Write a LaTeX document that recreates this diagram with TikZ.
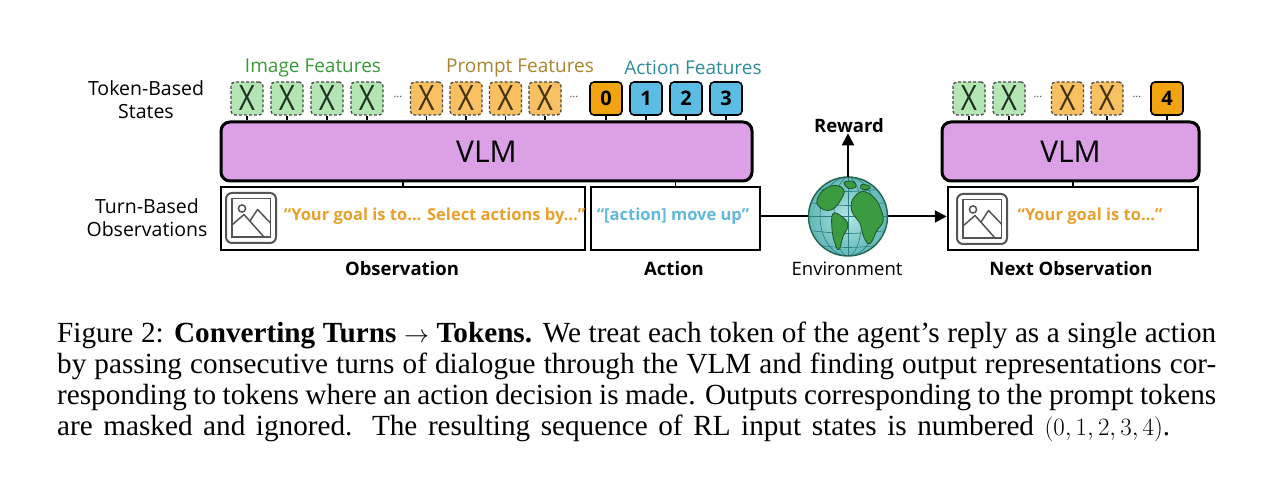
\documentclass[tikz,border=0pt]{standalone}
\usepackage[no-math]{fontspec}
\setmainfont{Liberation Serif}
\newfontfamily\dfont{Open Sans}
\usetikzlibrary{arrows.meta}
\definecolor{imgfill}{HTML}{B4E6B4}
\definecolor{prfill}{HTML}{F8C060}
\definecolor{numorange}{HTML}{F2A310}
\definecolor{numblue}{HTML}{5BBCE4}
\definecolor{vlmfill}{HTML}{DCA0E6}
\definecolor{dashgray}{HTML}{4A4A4A}
\definecolor{xgreen}{HTML}{223222}
\definecolor{xorange}{HTML}{42320C}
\definecolor{labgreen}{HTML}{3A9A3A}
\definecolor{labprompt}{HTML}{A8862E}
\definecolor{labaction}{HTML}{2E8C9C}
\definecolor{obsorange}{HTML}{E9A12B}
\definecolor{actblue}{HTML}{62B9DF}
\definecolor{icongray}{HTML}{555555}
\definecolor{ocean}{HTML}{78CFCF}
\definecolor{oceandark}{HTML}{2C7E82}
\definecolor{land}{HTML}{3C9A40}
\definecolor{landedge}{HTML}{1E5426}
\newcommand{\tokX}[1]{\textcolor{#1}{\fontsize{35}{35}\selectfont\scalebox{0.8}[1]{X}}}
\begin{document}
\begin{tikzpicture}[x=1pt,y=-1pt,
  every node/.style={font=\dfont},
  tok/.style={rectangle, rounded corners=4pt, minimum width=32pt, minimum height=33pt, inner sep=0pt},
  tokimg/.style={tok, fill=imgfill, draw=dashgray, dash pattern=on 3pt off 2pt, line width=1.3pt},
  tokpr/.style={tokimg, fill=prfill},
  toknum/.style={tok, draw=black, line width=1.6pt, font=\dfont\bfseries\fontsize{20}{20}\selectfont},
  tokor/.style={toknum, fill=numorange},
  tokbl/.style={toknum, fill=numblue},
  tick/.style={draw=black, line width=1.8pt},
  vlmbox/.style={rectangle, draw=black, line width=3pt, rounded corners=9pt, fill=vlmfill, minimum height=59pt, inner sep=0pt, font=\dfont\fontsize{30}{30}\selectfont},
  obsbox/.style={rectangle, draw=black, line width=2.5pt, fill=white, minimum height=63pt, inner sep=0pt},
  dots/.style={font=\dfont\fontsize{11}{11}\selectfont, text=dashgray, inner sep=0pt},
  featlab/.style={font=\dfont\fontsize{19}{22}\selectfont, inner sep=0pt},
  sidelab/.style={font=\dfont\fontsize{19.5}{23}\selectfont, align=center, inner sep=0pt},
  botlab/.style={font=\dfont\bfseries\fontsize{18.5}{21}\selectfont, inner sep=0pt},
  quote/.style={font=\dfont\bfseries\fontsize{16.5}{19}\selectfont, inner sep=0pt},
  conn/.style={draw=black, line width=2pt},
  arr/.style={conn, -{Triangle[length=12pt,width=12pt]}},
  icon/.pic={
    \draw[icongray, line width=2pt, rounded corners=6pt] (-25,-25) rectangle (25,25);
    \draw[icongray, line width=1.5pt] (-19,-19.5) rectangle (19.5,19);
    \draw[icongray, line width=1.5pt] (-9,-9.5) circle (3.6);
    \draw[icongray, line width=1.5pt, line join=round] (-19,7) -- (-7,-3.5) -- (13,19);
    \draw[icongray, line width=1.5pt, line join=round] (-1,3) -- (6.5,-8.5) -- (19.5,5);
  }
]
\useasboundingbox (0,0) rectangle (1280,478);
\fill[white] (0,0) rectangle (1280,478);

% side labels
\node[sidelab] (lts) at (146,100) {Token-Based\\States};
\node[sidelab] (lto) at (147,218) {Turn-Based\\Observations};

% feature labels
\node[featlab, text=labgreen] (fimg) at (313,68) {Image Features};
\node[featlab, text=labprompt] (fpr) at (520,68) {Prompt Features};
\node[featlab, text=labaction] (fact) at (693,68) {Action Features};

% VLM boxes
\node[vlmbox, minimum width=531pt] (vlma) at (486.5,151.5) {VLM};
\node[vlmbox, minimum width=257pt] (vlmb) at (1070.5,151.5) {VLM};

% observation boxes
\node[obsbox, minimum width=364pt] (obs) at (403,218.5) {};
\node[obsbox, minimum width=169pt] (act) at (675.5,218.5) {};
\node[obsbox, minimum width=250pt] (nobs) at (1073,218.5) {};

\draw[tick] (obs.north) -- (obs.north |- vlma.south);
\draw[tick] (act.north) -- (act.north |- vlma.south);
\draw[tick] (nobs.north) -- (nobs.north |- vlmb.south);

\pic at (251,218) {icon};
\pic at (982,219) {icon};

\node[quote, text=obsorange] (qobs) at (434.5,216) {“Your goal is to... Select actions by...”};
\node[quote, text=actblue] (qact) at (673,216) {“[action] move up”};
\node[quote, text=obsorange] (qnobs) at (1090,216) {“Your goal is to...”};

% tokens, first VLM
\foreach \x [count=\i] in {247,287,327,367} {
  \node[tokimg] (ti\i) at (\x,98.5) {\tokX{xgreen}};
  \draw[tick] (ti\i.south) -- (ti\i.south |- vlma.north);
}
\node[dots] (da) at (398,97) {…};
\foreach \x [count=\i] in {426.5,466,505.5,545} {
  \node[tokpr] (tp\i) at (\x,98.5) {\tokX{xorange}};
  \draw[tick] (tp\i.south) -- (tp\i.south |- vlma.north);
}
\node[dots] (db) at (574,97) {…};
\node[tokor] (n0) at (606,98.5) {0};
\node[tokbl] (n1) at (646,98.5) {1};
\node[tokbl] (n2) at (686,98.5) {2};
\node[tokbl] (n3) at (726,98.5) {3};
\foreach \n in {n0,n1,n2,n3} {
  \draw[tick] (\n.south) -- (\n.south |- vlma.north);
}

% tokens, second VLM
\node[tokimg] (ri1) at (969,98.5) {\tokX{xgreen}};
\node[tokimg] (ri2) at (1009,98.5) {\tokX{xgreen}};
\node[dots] (dc) at (1038,97) {…};
\node[tokpr] (rp1) at (1067.5,98.5) {\tokX{xorange}};
\node[tokpr] (rp2) at (1107,98.5) {\tokX{xorange}};
\node[dots] (dd) at (1137,97) {…};
\node[tokor] (n4) at (1167,98.5) {4};
\foreach \n in {ri1,ri2,rp1,rp2,n4} {
  \draw[tick] (\n.south) -- (\n.south |- vlmb.north);
}

% globe
\node[circle, minimum size=79pt, inner sep=0pt] (globe) at (848,216.5) {};
\begin{scope}[shift={(848,216.5)}]
  \begin{scope}
    \clip (0,0) circle (39.5);
    \shade[inner color=ocean!55!white, outer color=ocean!70!oceandark] (0,0) circle (39.5);
    \draw[oceandark, line width=0.6pt] (0,-40) -- (0,40);
    \draw[oceandark, line width=0.6pt] (0,0) ellipse (14 and 39.5);
    \draw[oceandark, line width=0.6pt] (0,0) ellipse (28 and 39.5);
    \draw[oceandark, line width=0.6pt] (-40,0) -- (40,0);
    \draw[oceandark, line width=0.6pt] (-40,-14) .. controls (0,-10) .. (40,-14);
    \draw[oceandark, line width=0.6pt] (-40,14) .. controls (0,18) .. (40,14);
    \draw[oceandark, line width=0.6pt] (-40,-28) .. controls (0,-24) .. (40,-28);
    \draw[oceandark, line width=0.6pt] (-40,28) .. controls (0,32) .. (40,28);
    \filldraw[fill=land, draw=landedge, line width=0.8pt] plot[smooth cycle, tension=0.7] coordinates
      {(-31,-16) (-24,-27) (-12,-31) (-4,-26) (-7,-17) (-13,-9) (-20,-6) (-28,-9)};
    \filldraw[fill=land, draw=landedge, line width=0.8pt] plot[smooth cycle, tension=0.7] coordinates
      {(-15,-3) (-5,1) (0,9) (-5,20) (-9,33) (-13,27) (-16,13)};
    \filldraw[fill=land, draw=landedge, line width=0.8pt] plot[smooth cycle, tension=0.7] coordinates
      {(6,-19) (15,-25) (26,-19) (33,-7) (35,5) (29,14) (22,27) (16,21) (12,7) (6,-1) (3,-10)};
    \filldraw[fill=land, draw=landedge, line width=0.8pt] plot[smooth cycle, tension=0.7] coordinates
      {(-4,-34) (5,-35) (8,-30) (1,-28)};
    \filldraw[fill=land, draw=landedge, line width=0.8pt] plot[smooth cycle, tension=0.7] coordinates
      {(14,-32) (22,-30) (20,-27) (13,-28)};
  \end{scope}
  \draw[landedge!60!oceandark, line width=1.4pt] (0,0) circle (39.5);
\end{scope}

% environment connectors
\draw[conn] (act.east |- globe.west) -- (globe.west);
\draw[arr] (globe.east) -- (nobs.west |- globe.east);
\node[botlab] (rew) at (849,126) {Reward};
\draw[arr] (globe.north) -- (globe.north |- rew.south);

% bottom labels
\node[botlab] (lobs) at (402,269) {Observation};
\node[botlab] (lact) at (674,269) {Action};
\node[font=\dfont\fontsize{18.5}{21}\selectfont, inner sep=0pt] (lenv) at (847,269) {Environment};
\node[botlab] (lnobs) at (1071,269) {Next Observation};

% caption
\node[anchor=base west, inner sep=0pt, font=\rmfamily] (cap) at (57,343) {\parbox[t]{1159pt}{\fontsize{29.2}{30.7}\selectfont
\spaceskip=0.25em plus 0.2em minus 0.12em
\hbox to\hsize{Figure 2: \textbf{Converting Turns $\rightarrow$ Tokens.} We treat each token of the agent’s reply as a single action}
\hbox to\hsize{by passing consecutive turns of dialogue through the VLM and finding output representations cor-}
\hbox to\hsize{responding to tokens where an action decision is made. Outputs corresponding to the prompt tokens}
\hbox to 1113pt{are masked and ignored. The resulting sequence of RL input states is numbered $(0,1,2,3,4)$.}}};
\end{tikzpicture}
\end{document}
